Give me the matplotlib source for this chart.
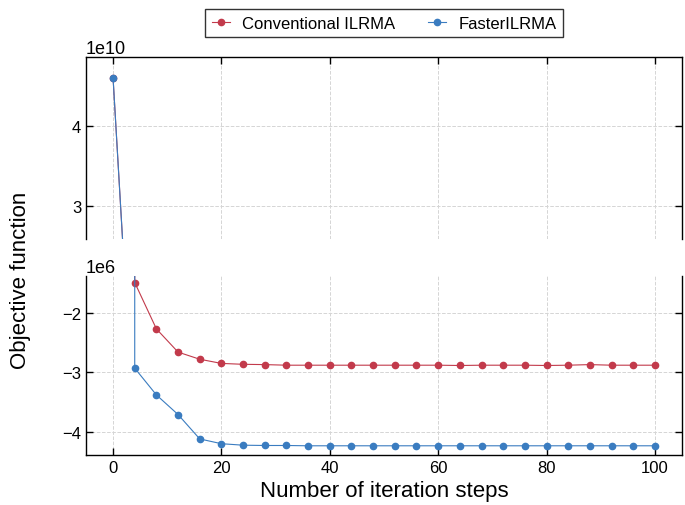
import matplotlib
matplotlib.use("Agg")
import matplotlib.pyplot as plt

plt.rcParams['font.family'] = ['Liberation Sans', 'DejaVu Sans']

# iteration steps
steps = list(range(0, 101, 4))

# objective values
conventional = [4.6e10, -1.49e6, -2.27e6, -2.66e6, -2.78e6, -2.85e6, -2.865e6,
                -2.87e6, -2.88e6, -2.88e6, -2.88e6, -2.88e6, -2.88e6, -2.88e6,
                -2.88e6, -2.88e6, -2.885e6, -2.88e6, -2.88e6, -2.88e6, -2.885e6,
                -2.88e6, -2.87e6, -2.88e6, -2.88e6, -2.88e6]
faster = [4.6e10, -2.93e6, -3.38e6, -3.71e6, -4.12e6, -4.20e6, -4.225e6,
          -4.23e6, -4.23e6, -4.235e6, -4.235e6, -4.235e6, -4.235e6, -4.235e6,
          -4.235e6, -4.235e6, -4.235e6, -4.235e6, -4.235e6, -4.235e6, -4.235e6,
          -4.235e6, -4.235e6, -4.235e6, -4.235e6, -4.235e6]

red = "#c23a4b"
blue = "#3a7cc0"

fig = plt.figure(figsize=(6.85, 5.06), dpi=100)
ax_top = fig.add_axes([0.1255, 0.5257, 0.8701, 0.3597])
ax_bot = fig.add_axes([0.1255, 0.0988, 0.8701, 0.3538], sharex=ax_top)

for ax in (ax_top, ax_bot):
    ax.plot(steps, conventional, "-o", color=red, lw=0.8, ms=4.5,
            label="Conventional ILRMA")
    ax.plot(steps, faster, "-o", color=blue, lw=0.8, ms=4.5,
            label="FasterILRMA")
    ax.grid(True, ls="--", color="#d5d5d5", lw=0.7)
    ax.tick_params(direction="in", labelsize=12, right=True, length=5, width=1.0)
    ax.yaxis.get_offset_text().set_fontsize(13)
    for s in ax.spines.values():
        s.set_linewidth(1.0)

ax_top.set_xlim(-5, 105)
ax_top.set_ylim(2.59e10, 4.86e10)
ax_top.set_yticks([3e10, 4e10])
ax_bot.set_ylim(-4.39e6, -1.38e6)
ax_bot.set_yticks([-4e6, -3e6, -2e6])
ax_bot.set_xticks([0, 20, 40, 60, 80, 100])

ax_top.spines["bottom"].set_visible(False)
ax_bot.spines["top"].set_visible(False)
ax_top.tick_params(top=True, bottom=False, labelbottom=False)
ax_bot.tick_params(top=False)

ax_bot.set_xlabel("Number of iteration steps", fontsize=16, labelpad=4)
fig.text(0.030, 0.445, "Objective function", rotation=90, fontsize=16,
         ha="center", va="center")

ax_top.legend(loc="center", bbox_to_anchor=(0.5, 1.185), ncol=2, fontsize=12,
              frameon=True, fancybox=False, edgecolor="black",
              handlelength=1.1, handletextpad=0.7, columnspacing=2.0,
              borderpad=0.4)

fig.savefig("out.png", dpi=100)
